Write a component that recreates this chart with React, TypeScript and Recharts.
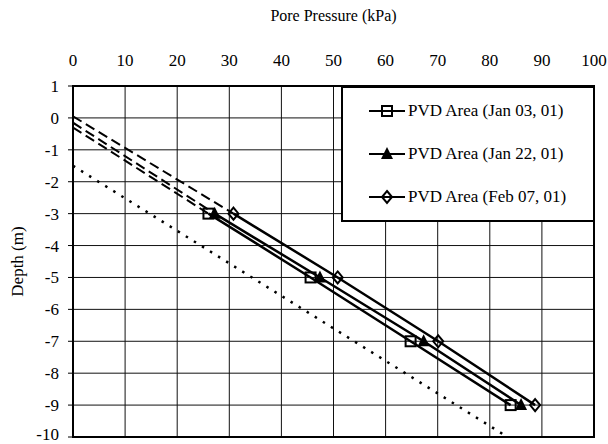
import React from "react";
import {
  LineChart,
  Line,
  XAxis,
  YAxis,
  CartesianGrid,
  Legend,
  ReferenceArea,
} from "recharts";

const depths = [-3, -5, -7, -9];
const jan03 = [26, 45.6, 64.8, 84];
const jan22 = [27.2, 47.4, 67.3, 86];
const feb07 = [30.8, 50.8, 70.1, 88.7];

// depth where each dashed extrapolation meets the 0 kPa axis
const surfaceDepth = { jan03: -0.3, jan22: -0.15, feb07: 0.05 };

// hydrostatic line (water table at -1.5 m)
const hydroPressure = [0, 83.4];
const hydroDepth = [-1.5, -10];

const xTicks = [0, 10, 20, 30, 40, 50, 60, 70, 80, 90, 100];
const yTicks = [1, 0, -1, -2, -3, -4, -5, -6, -7, -8, -9, -10];

const toPoints = (ps: number[], ds: number[]) => ps.map((p, i) => ({ p, d: ds[i] }));

const jan03Data = toPoints(jan03, depths);
const jan22Data = toPoints(jan22, depths);
const feb07Data = toPoints(feb07, depths);
const jan03Dash = [{ p: 0, d: surfaceDepth.jan03 }, jan03Data[0]];
const jan22Dash = [{ p: 0, d: surfaceDepth.jan22 }, jan22Data[0]];
const feb07Dash = [{ p: 0, d: surfaceDepth.feb07 }, feb07Data[0]];
const hydroData = toPoints(hydroPressure, hydroDepth);

const FONT = "Liberation Serif, DejaVu Serif, Times New Roman, serif";

const SquareDot = (p: any) => (
  <rect key={`sq-${p.index}`} x={p.cx - 5} y={p.cy - 5} width={10} height={10} fill="none" stroke="#000" strokeWidth={2} />
);
const TriangleDot = (p: any) => (
  <path key={`tr-${p.index}`} d={`M${p.cx},${p.cy - 7} L${p.cx + 6},${p.cy + 5} L${p.cx - 6},${p.cy + 5} Z`} fill="#000" />
);
const DiamondDot = (p: any) => (
  <path key={`di-${p.index}`} d={`M${p.cx},${p.cy - 6} L${p.cx + 5},${p.cy} L${p.cx},${p.cy + 6} L${p.cx - 5},${p.cy} Z`} fill="none" stroke="#000" strokeWidth={2} />
);

const legendItems = [
  { label: "PVD Area (Jan 03, 01)", Dot: SquareDot },
  { label: "PVD Area (Jan 22, 01)", Dot: TriangleDot },
  { label: "PVD Area (Feb 07, 01)", Dot: DiamondDot },
];

function LegendBox() {
  return (
    <div
      style={{
        background: "#fff",
        border: "2px solid #000",
        boxSizing: "border-box",
        width: 254,
        height: 136,
        padding: "1px 0 0 26px",
        fontFamily: FONT,
        fontSize: 17,
        color: "#000",
      }}
    >
      {legendItems.map(({ label, Dot }) => (
        <div key={label} style={{ display: "flex", alignItems: "center", height: 43 }}>
          <svg width={36} height={16} style={{ marginRight: 3 }}>
            <line x1={0} y1={8} x2={36} y2={8} stroke="#000" strokeWidth={2} />
            <Dot cx={18} cy={8} index={0} />
          </svg>
          <span>{label}</span>
        </div>
      ))}
    </div>
  );
}

// rotated axis title, centred on the plot height
const DepthLabel = ({ viewBox }: any) => {
  const x = viewBox.x + 19;
  const y = viewBox.y + viewBox.height / 2;
  return (
    <text x={x} y={y} transform={`rotate(-90, ${x}, ${y})`} textAnchor="middle" dominantBaseline="middle" fill="#000" fontSize={17} fontFamily={FONT}>
      Depth (m)
    </text>
  );
};

export default function App() {
  return (
    <div style={{ position: "absolute", left: 0, top: 0, background: "#fff" }}>
      <LineChart width={608} height={444} margin={{ top: 0, right: 14, bottom: 7, left: 0 }}>
        <CartesianGrid stroke="#111" strokeWidth={1} />
        <XAxis
          type="number"
          dataKey="p"
          orientation="top"
          domain={[0, 100]}
          ticks={xTicks}
          height={86}
          tickLine={false}
          tickSize={0}
          tickMargin={20}
          axisLine={{ stroke: "#000", strokeWidth: 2 }}
          tick={{ fill: "#000", fontSize: 17, fontFamily: FONT }}
          label={{ value: "Pore Pressure (kPa)", position: "insideTop", offset: 10, fill: "#000", fontSize: 16, fontFamily: FONT }}
          allowDataOverflow
        />
        <YAxis
          type="number"
          dataKey="d"
          domain={[-10, 1]}
          ticks={yTicks}
          width={73}
          tickSize={5}
          tickMargin={9}
          tickLine={{ stroke: "#000" }}
          axisLine={{ stroke: "#000", strokeWidth: 2 }}
          tick={{ fill: "#000", fontSize: 17, fontFamily: FONT }}
          label={{ content: DepthLabel }}
          allowDataOverflow
        />
        <ReferenceArea x1={0} x2={100} y1={-10} y2={1} fill="none" stroke="#000" strokeWidth={2} fillOpacity={0} />
        <Line data={hydroData} dataKey="d" stroke="#000" strokeWidth={2.5} strokeDasharray="2.5 7" dot={false} isAnimationActive={false} legendType="none" />
        <Line data={jan03Dash} dataKey="d" stroke="#000" strokeWidth={2} strokeDasharray="10 5" dot={false} isAnimationActive={false} legendType="none" />
        <Line data={jan22Dash} dataKey="d" stroke="#000" strokeWidth={2} strokeDasharray="10 5" dot={false} isAnimationActive={false} legendType="none" />
        <Line data={feb07Dash} dataKey="d" stroke="#000" strokeWidth={2} strokeDasharray="10 5" dot={false} isAnimationActive={false} legendType="none" />
        <Line data={jan03Data} dataKey="d" name="PVD Area (Jan 03, 01)" stroke="#000" strokeWidth={2.5} dot={SquareDot} isAnimationActive={false} />
        <Line data={jan22Data} dataKey="d" name="PVD Area (Jan 22, 01)" stroke="#000" strokeWidth={2.5} dot={TriangleDot} isAnimationActive={false} />
        <Line data={feb07Data} dataKey="d" name="PVD Area (Feb 07, 01)" stroke="#000" strokeWidth={2.5} dot={DiamondDot} isAnimationActive={false} />
        <Legend
          layout="vertical"
          align="center"
          verticalAlign="middle"
          content={() => <LegendBox />}
          wrapperStyle={{ position: "absolute", left: 341, top: 86, width: 254, height: 136 }}
        />
      </LineChart>
    </div>
  );
}
